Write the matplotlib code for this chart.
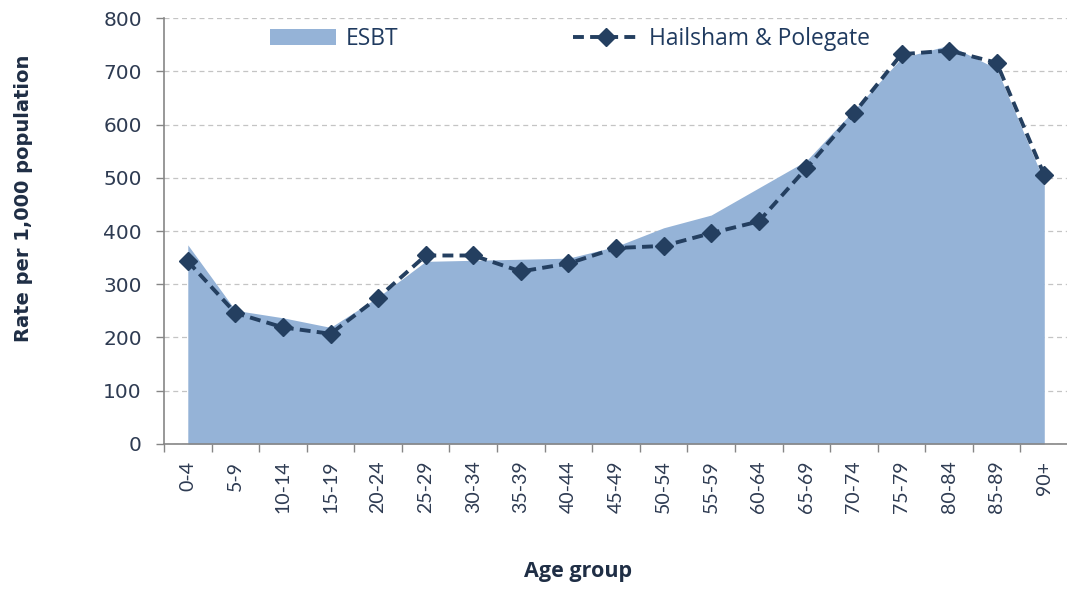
import numpy as np
import matplotlib
matplotlib.use("Agg")
import matplotlib.pyplot as plt

plt.rcParams['font.family'] = ['Lato', 'DejaVu Sans']

# data
age_groups = ["0-4", "5-9", "10-14", "15-19", "20-24", "25-29", "30-34", "35-39",
              "40-44", "45-49", "50-54", "55-59", "60-64", "65-69", "70-74",
              "75-79", "80-84", "85-89", "90+"]
esbt = [374, 251, 237, 219, 276, 343, 345, 347, 349, 371, 406, 430, 481, 532,
        627, 725, 749, 705, 493]
hailsham = [343, 246, 219, 207, 275, 354, 354, 324, 339, 368, 372, 396, 418,
            518, 621, 732, 739, 716, 505]

x = np.arange(len(age_groups))
text_col = '#2E3B52'

fig = plt.figure(figsize=(10.67, 5.89), dpi=100)
ax = fig.add_axes([0.1537, 0.2462, 0.8473, 0.7232])

ax.fill_between(x, 0, esbt, color='#95B3D7', linewidth=0, label='ESBT', zorder=2)
ax.plot(x, hailsham, color='#243F60', linestyle=(0, (2.8, 1.6)), linewidth=2.8,
        marker='D', markersize=9, label='Hailsham & Polegate', zorder=3)

ax.set_xlim(-0.5, len(age_groups) - 0.5)
ax.set_ylim(0, 800)
ax.set_yticks(range(0, 801, 100))
ax.yaxis.grid(True, linestyle=(0, (4, 3)), color='#C4C4C4', linewidth=0.9, zorder=0)
ax.set_axisbelow(True)

ax.set_xticks(x)
ax.set_xticklabels(age_groups, rotation=90, fontsize=14, color=text_col)
ax.set_xticks(x - 0.5, minor=True)
ax.tick_params(axis='x', which='major', length=0, pad=12)
ax.tick_params(axis='x', which='minor', length=6, color='#868686', width=1)
ax.tick_params(axis='y', length=6, color='#868686', width=1, pad=10)
for lab in ax.get_yticklabels():
    lab.set_fontfamily('DejaVu Sans')
    lab.set_fontsize(14.5)
    lab.set_color(text_col)

for s in ['top', 'right']:
    ax.spines[s].set_visible(False)
for s in ['left', 'bottom']:
    ax.spines[s].set_color('#868686')
    ax.spines[s].set_linewidth(1.2)

ax.set_ylabel("Rate per 1,000 population", fontsize=14, fontweight='bold',
              color='#1F2E45', family='DejaVu Sans')
ax.yaxis.set_label_coords(-0.145, 0.577)
ax.set_xlabel("Age group", fontsize=15.5, fontweight='bold', color='#1F2E45',
              family='Open Sans')
ax.xaxis.set_label_coords(0.458, -0.275)

leg = ax.legend(loc='upper left', bbox_to_anchor=(0.107, 1.0), ncol=2, frameon=False,
                borderaxespad=0, prop={'family': 'Open Sans', 'size': 16.5},
                handlelength=2.9, columnspacing=7.6, handletextpad=0.43,
                labelcolor='#1F3A5F')

fig.savefig("out.png", dpi=100)
